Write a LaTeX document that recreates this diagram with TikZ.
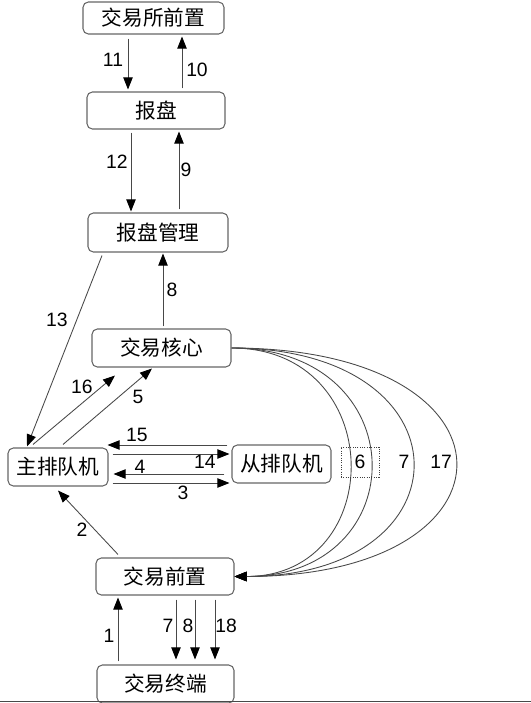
\documentclass[tikz,border=0pt]{standalone}
\usepackage{fontspec}
\setmainfont{Liberation Sans}
\newfontfamily\cjk{Noto Sans CJK SC}
\usetikzlibrary{calc,arrows.meta}
\definecolor{boxgray}{HTML}{666666}
\definecolor{linegray}{HTML}{484848}
\begin{document}
\begin{tikzpicture}[x=0.75pt,y=-0.75pt,
  box/.style={draw=boxgray, line width=0.8pt, rounded corners=4pt, inner sep=0pt, font=\cjk\fontsize{15.5}{18}\selectfont},
  conn/.style={draw=linegray, line width=0.65pt},
  arr/.style={conn, -{Triangle[length=9pt,width=7pt,color=black]}},
  lbl/.style={font=\fontsize{14.5}{16}\selectfont, inner sep=0pt}]
\useasboundingbox (0,0) rectangle (531,703);

% boxes
\node[box, minimum width={141*0.75pt}, minimum height={32*0.75pt}] (ex) at (153.5,18) {交易所前置};
\node[box, minimum width={138*0.75pt}, minimum height={37*0.75pt}] (bp) at (156,110.5) {报盘};
\node[box, minimum width={140*0.75pt}, minimum height={39*0.75pt}] (bpm) at (158,232.5) {报盘管理};
\node[box, minimum width={139*0.75pt}, minimum height={38*0.75pt}] (core) at (161.5,348) {交易核心};
\node[box, minimum width={100*0.75pt}, minimum height={38*0.75pt}] (main) at (58,467) {主排队机};
\node[box, minimum width={99*0.75pt}, minimum height={38*0.75pt}] (slave) at (281.5,464) {从排队机};
\node[box, minimum width={138*0.75pt}, minimum height={37*0.75pt}] (fe) at (165,576.5) {交易前置};
\node[box, minimum width={137*0.75pt}, minimum height={38*0.75pt}] (term) at (165.5,684) {交易终端};

% top arrows
\draw[arr] ($(ex.south)+(-25.5,4)$) -- ($(bp.north)+(-28,-2)$);
\draw[arr] ($(bp.north)+(26,-3)$) -- ($(ex.south)+(28.5,2)$);
\draw[arr] ($(bp.south)+(-25,3)$) -- ($(bpm.north)+(-27,-1)$);
\draw[arr] ($(bpm.north)+(21,-3)$) -- ($(bp.south)+(23,2)$);
\draw[arr] ($(core.north)+(1.5,-2)$) -- ($(bpm.south)+(5,1)$);
\draw[arr] ($(bpm.south)+(-56,3)$) -- ($(main.north)+(-31,-1)$);

% main <-> core
\draw[arr] ($(main.north)+(-25,-3)$) -- ($(core.south)+(-46.5,8)$);
\draw[arr] ($(main.north)+(5,-3)$) -- ($(core.south)+(-9.5,1)$);

% main <-> slave
\draw[arr] ($(slave.west)+(-4,-19)$) -- ($(main.east)+(-1,-22)$);
\draw[arr] ($(main.east)+(4,-13)$) -- ($(slave.west)+(-2,-10)$);
\draw[arr] ($(slave.west)+(-7,10)$) -- ($(main.east)+(5,7)$);
\draw[arr] ($(main.east)+(4,16)$) -- ($(slave.west)+(-2,19)$);

% curves core -> fe
\draw[arr] (core.east) .. controls ($(core.east)+(157,0)$) and ($(fe.east)+(154,0)$) .. (fe.east);
\draw[arr] (core.east) .. controls ($(core.east)+(185,0)$) and ($(fe.east)+(182,0)$) .. (fe.east);
\draw[arr] (core.east) .. controls ($(core.east)+(241,0)$) and ($(fe.east)+(238,0)$) .. (fe.east);
\draw[arr] (core.east) .. controls ($(core.east)+(298,0)$) and ($(fe.east)+(295,0)$) .. (fe.east);

% fe -> main
\draw[arr] ($(fe.north)+(-47,-3)$) -- ($(main.south)+(0,4)$);

% fe <-> term
\draw[arr] ($(term.north)+(-47.5,-3)$) -- ($(fe.south)+(-47,2)$);
\draw[arr] ($(fe.south)+(11,4)$) -- ($(term.north)+(10.5,-5)$);
\draw[arr] ($(fe.south)+(30,4)$) -- ($(term.north)+(29.5,-5)$);
\draw[arr] ($(fe.south)+(50,4)$) -- ($(term.north)+(49.5,-5)$);

% labels
\node[lbl] (l11) at (113,60) {11};
\node[lbl] (l10) at (197,70) {10};
\node[lbl] (l12) at (117,162) {12};
\node[lbl] (l9) at (186,170) {9};
\node[lbl] (l8a) at (172,290) {8};
\node[lbl] (l13) at (57,320) {13};
\node[lbl] (l16) at (82,387) {16};
\node[lbl] (l5) at (138,397) {5};
\node[lbl] (l15) at (137,435) {15};
\node[lbl] (l14) at (205,462) {14};
\node[lbl] (l4) at (140,467) {4};
\node[lbl] (l3) at (183,493) {3};
\node[lbl, draw=black!75, densely dotted, line width=0.75pt, minimum width={38*0.75pt}, minimum height={30*0.75pt}] (l6) at (360,462) {6};
\node[lbl] (l7a) at (404,462) {7};
\node[lbl] (l17) at (441,462) {17};
\node[lbl] (l2) at (82,530) {2};
\node[lbl] (l1) at (109,636) {1};
\node[lbl] (l7b) at (168,626) {7};
\node[lbl] (l8b) at (188,626) {8};
\node[lbl] (l18) at (226,626) {18};

% bottom rule
\draw[linegray, line width=0.8pt] (0,701.5) -- (531,701.5);
\end{tikzpicture}
\end{document}
